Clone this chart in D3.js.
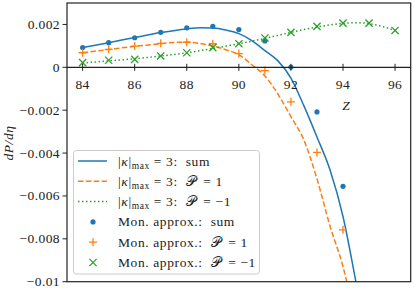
<!DOCTYPE html>
<html>
<head>
<meta charset="utf-8">
<script src="https://cdn.jsdelivr.net/npm/d3@7"></script>
<style>
  body { margin: 0; background: #fff; }
  svg { font-family: "Liberation Serif", "DejaVu Serif", serif; }
</style>
</head>
<body>
<svg id="chart" width="415" height="291"></svg>
<script>
// points (Mon. approx.)
const zDots = [84, 85, 86, 87, 88, 89, 90, 91, 92, 93, 94];
const sumDots = [0.00092, 0.00115, 0.00138, 0.00163, 0.00184, 0.00191, 0.00176, 0.00123, 0.00001, -0.00208, -0.00555];
const p1Dots = [0.00068, 0.00084, 0.00099, 0.00112, 0.00117, 0.0011, 0.00064, -0.00015, -0.00161, -0.00397, -0.00758];
const zMinus = [84, 85, 86, 87, 88, 89, 90, 91, 92, 93, 94, 95, 96];
const m1Dots = [0.00022, 0.00033, 0.00037, 0.00053, 0.00068, 0.00092, 0.0011, 0.00137, 0.00163, 0.00191, 0.00206, 0.00206, 0.00172];

// curves (|kappa|max = 3)
const zSum = [84, 85, 86, 87, 88, 88.5, 89, 89.5, 90, 90.5, 91, 91.5, 92, 92.5, 93, 93.5, 94, 94.5, 94.7];
const sumLine = [0.00092, 0.00115, 0.00139, 0.00162, 0.00179, 0.00184, 0.00183, 0.00174, 0.00157, 0.00125, 0.00078, 0.0003, -0.0005, -0.0018, -0.00325, -0.00478, -0.00696, -0.01003, -0.0113];
const zP1 = [84, 85, 86, 87, 87.5, 88, 88.5, 89, 89.5, 90, 90.5, 91, 91.5, 92, 92.5, 93, 93.5, 94, 94.3];
const p1Line = [0.00068, 0.00083, 0.00098, 0.0011, 0.00116, 0.00117, 0.00111, 0.001, 0.00082, 0.00059, 0.00012, -0.0004, -0.00125, -0.0023, -0.0034, -0.0052, -0.0074, -0.0093, -0.0108];
const zM1 = [84, 85, 86, 87, 88, 89, 90, 91, 92, 93, 94, 94.5, 95, 96];
const m1Line = [0.0002, 0.0003, 0.0004, 0.00053, 0.00068, 0.00088, 0.0011, 0.00135, 0.00163, 0.00188, 0.00205, 0.00208, 0.00204, 0.00172];

const xTicks = [84, 86, 88, 90, 92, 94, 96];
const yTicks = [0.002, 0, -0.002, -0.004, -0.006, -0.008, -0.01];
const yTickLabels = ["0.002", "0", "\u22120.002", "\u22120.004", "\u22120.006", "\u22120.008", "\u22120.01"];

const blue = "#1f77b4", orange = "#ff7f0e", green = "#2ca02c";
const fs = 13.5;

const svg = d3.select("#chart");
const pLeft = 67, pRight = 410.7, pTop = 3, pBottom = 281.7;

const x = d3.scaleLinear().domain([83.4, 96.6]).range([pLeft, pRight]);
const y = d3.scaleLinear().domain([-0.01, 0.003]).range([pBottom, pTop]);

svg.append("clipPath").attr("id", "clip")
  .append("rect").attr("x", pLeft).attr("y", pTop)
  .attr("width", pRight - pLeft).attr("height", pBottom - pTop);

const plot = svg.append("g").attr("clip-path", "url(#clip)");

function drawLine(zs, vs, color, dash) {
  const line = d3.line().x((d, i) => x(zs[i])).y(d => y(d)).curve(d3.curveMonotoneX);
  plot.append("path").datum(vs)
    .attr("d", line)
    .attr("fill", "none")
    .attr("stroke", color)
    .attr("stroke-width", 1.5)
    .attr("stroke-dasharray", dash);
}
drawLine(zSum, sumLine, blue, null);
drawLine(zP1, p1Line, orange, "5.5,2.4");
drawLine(zM1, m1Line, green, "1.5,2.5");

// markers
function dot(g, cx, cy) {
  g.append("circle").attr("cx", cx).attr("cy", cy).attr("r", 2.6).attr("fill", blue);
}
function plus(g, cx, cy) {
  g.append("path").attr("d", `M${cx - 4},${cy}H${cx + 4}M${cx},${cy - 4}V${cy + 4}`)
    .attr("stroke", orange).attr("stroke-width", 1.3).attr("fill", "none");
}
function cross(g, cx, cy) {
  g.append("path").attr("d", `M${cx - 3.6},${cy - 3.6}L${cx + 3.6},${cy + 3.6}M${cx - 3.6},${cy + 3.6}L${cx + 3.6},${cy - 3.6}`)
    .attr("stroke", green).attr("stroke-width", 1.3).attr("fill", "none");
}
zDots.forEach((z, i) => dot(plot, x(z), y(sumDots[i])));
zDots.forEach((z, i) => plus(plot, x(z), y(p1Dots[i])));
zMinus.forEach((z, i) => cross(plot, x(z), y(m1Dots[i])));

// frame
svg.append("rect").attr("x", pLeft).attr("y", pTop)
  .attr("width", pRight - pLeft).attr("height", pBottom - pTop)
  .attr("fill", "none").attr("stroke", "#222").attr("stroke-width", 1.2);

// y axis
const yAxis = svg.append("g");
yTicks.forEach((t, i) => {
  yAxis.append("line").attr("x1", pLeft - 4.5).attr("x2", pLeft)
    .attr("y1", y(t)).attr("y2", y(t)).attr("stroke", "#222").attr("stroke-width", 1);
  yAxis.append("text").attr("x", pLeft - 7).attr("y", y(t) + 4.5)
    .attr("text-anchor", "end").attr("font-size", fs).attr("letter-spacing", 0.4)
    .attr("fill", "#222").text(yTickLabels[i]);
});

// x axis at zero
const xAxis = svg.append("g");
xAxis.append("line").attr("x1", pLeft).attr("x2", pRight)
  .attr("y1", y(0)).attr("y2", y(0)).attr("stroke", "#222").attr("stroke-width", 1.2);
xTicks.forEach(t => {
  xAxis.append("line").attr("x1", x(t)).attr("x2", x(t))
    .attr("y1", y(0) - 3.5).attr("y2", y(0) + 3.5).attr("stroke", "#222").attr("stroke-width", 1);
  xAxis.append("text").attr("x", x(t)).attr("y", y(0) + 21.5)
    .attr("text-anchor", "middle").attr("font-size", fs).attr("letter-spacing", 0.4)
    .attr("fill", "#222").text(t);
});

svg.append("text").attr("x", 346).attr("y", 109.5).attr("text-anchor", "middle")
  .attr("font-size", fs).attr("font-style", "italic").attr("fill", "#222").text("Z");

svg.append("text").attr("transform", "translate(12.5,143) rotate(-90)")
  .attr("text-anchor", "middle").attr("font-size", fs).attr("font-style", "italic")
  .attr("letter-spacing", 0.6).attr("fill", "#222").text("dP/d\u03b7");

// legend
const lg = svg.append("g");
lg.append("rect").attr("x", 73.5).attr("y", 150.5).attr("width", 186).attr("height", 123.5)
  .attr("rx", 3).attr("fill", "rgba(255,255,255,0.8)").attr("stroke", "#ccc").attr("stroke-width", 1);

const entries = [
  { kind: "line", color: blue, dash: null, pre: "k", tail: "sum" },
  { kind: "line", color: orange, dash: "5.5,2.4", pre: "k", tail: "P1" },
  { kind: "line", color: green, dash: "1.5,2.5", pre: "k", tail: "Pm1" },
  { kind: "dot", pre: "m", tail: "sum" },
  { kind: "plus", pre: "m", tail: "P1" },
  { kind: "cross", pre: "m", tail: "Pm1" }
];
entries.forEach((e, i) => {
  const cy = 161 + i * 20.3;
  if (e.kind === "line") {
    lg.append("line").attr("x1", 78).attr("x2", 107).attr("y1", cy).attr("y2", cy)
      .attr("stroke", e.color).attr("stroke-width", 1.5).attr("stroke-dasharray", e.dash);
  } else if (e.kind === "dot") dot(lg, 93, cy);
  else if (e.kind === "plus") plus(lg, 93, cy);
  else cross(lg, 93, cy);

  const t = lg.append("text").attr("x", 118).attr("y", cy + 4.5)
    .attr("font-size", fs).attr("letter-spacing", 0.6).attr("fill", "#222")
    .style("white-space", "pre");
  if (e.pre === "k") {
    t.append("tspan").text("|");
    t.append("tspan").attr("font-style", "italic").text("\u03ba");
    t.append("tspan").text("|");
    t.append("tspan").attr("font-size", 9.5).attr("dy", 3).text("max");
    t.append("tspan").attr("dy", -3).text(" = 3:  ");
  } else {
    t.append("tspan").text("Mon. approx.:  ");
  }
  if (e.tail === "sum") t.append("tspan").text("sum");
  else {
    t.append("tspan").text("\ud835\udcab");
    t.append("tspan").attr("dx", 3).text(e.tail === "P1" ? " = 1" : " = \u22121");
  }
});
</script>
</body>
</html>
